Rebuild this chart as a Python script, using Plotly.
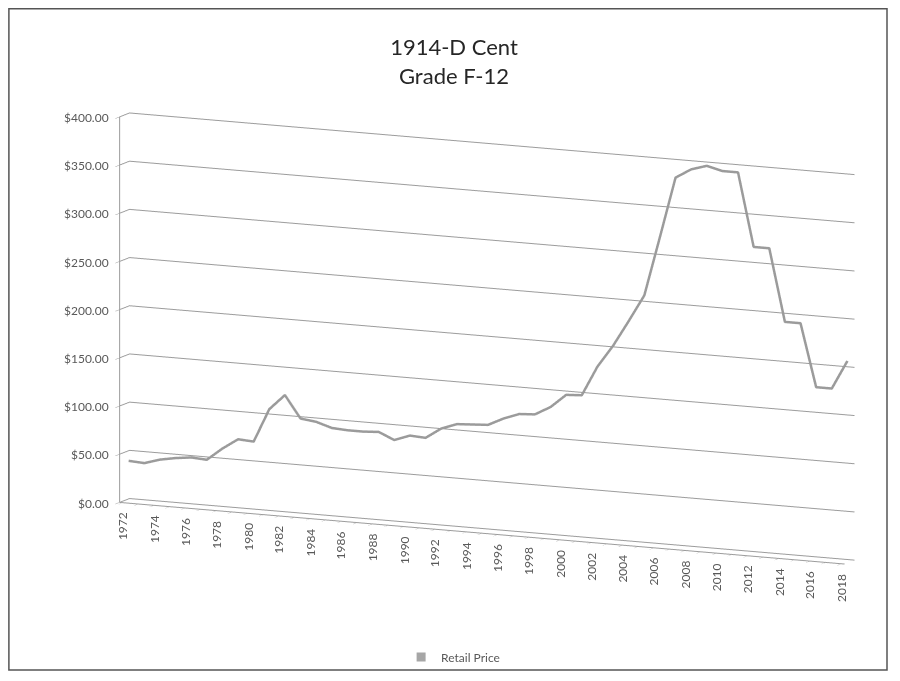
import math
import plotly.graph_objects as go

# ---- data ----
years = list(range(1972, 2019))
prices = [41, 40, 45, 48, 50, 49, 62, 73, 72, 107,
          123, 100, 98, 93, 92, 92, 93, 86, 92, 91,
          102, 108, 109, 110, 118, 124, 125, 134, 148, 149,
          180, 203, 230, 258, 320, 383, 393, 398, 394, 394,
          318, 318, 243, 243, 178, 178, 208]
series_name = "Retail Price"
title_lines = ["1914-D Cent", "Grade F-12"]
year_labels = [str(y) for y in range(1972, 2019, 2)]
value_ticks = list(range(0, 401, 50))
value_labels = ["$%.2f" % v for v in value_ticks]
depth = [0.6] * len(years)

# ---- figure size (page body adds an 8px offset) ----
W, H = 892, 673

# ---- camera geometry ----
yaw = math.radians(25)
pitch = math.radians(10.5)
r = 2.0
dirv = (math.sin(yaw) * math.cos(pitch), -math.cos(yaw) * math.cos(pitch), math.sin(pitch))
shift = -0.117
cen = (shift * math.cos(yaw), shift * math.sin(yaw), 0.0)
eye = tuple(c + r * d for c, d in zip(cen, dirv))
zoom = 1.388

FONT = "Lato"
TXT = "#595959"
GRID = "#9c9c9c"
LINE = "#9b9b9b"
XMIN, XMAX = 1971.8, 2018.2

fig = go.Figure()
fig.add_trace(go.Scatter3d(
    x=years, y=depth, z=prices, mode="lines", name=series_name,
    line=dict(color=LINE, width=5), showlegend=False,
))
# legend entry (square key, as in the reference)
fig.add_trace(go.Scatter(
    x=[None], y=[None], mode="markers", name=series_name,
    marker=dict(symbol="square", size=9, color="#a6a6a6"), showlegend=True,
))

annotations = []
for lab in year_labels:
    annotations.append(dict(x=int(lab), y=0, z=0, text=lab, showarrow=False,
                            textangle=-90, xanchor="center", yanchor="top", yshift=-7,
                            font=dict(family=FONT, size=12, color=TXT)))
for v, lab in zip(value_ticks, value_labels):
    annotations.append(dict(x=XMIN, y=0, z=v, text=lab, showarrow=False,
                            xanchor="right", yanchor="middle", xshift=-9,
                            font=dict(family=FONT, size=12, color=TXT)))

fig.update_layout(
    width=W, height=H,
    margin=dict(l=0, r=0, t=0, b=0, pad=0),
    paper_bgcolor="white",
    plot_bgcolor="rgba(0,0,0,0)",
    font=dict(family=FONT, color=TXT, size=12),
    title=dict(text="<br>".join(title_lines), x=0.5, xanchor="center",
               y=1 - 47 / H, yanchor="middle", yref="container",
               font=dict(family=FONT, size=22, color="#262626")),
    showlegend=True,
    legend=dict(orientation="h", x=0.499, xanchor="center", y=1 - 649 / H, yanchor="middle",
                font=dict(family=FONT, size=12, color=TXT), bgcolor="rgba(0,0,0,0)",
                itemwidth=30),
    xaxis=dict(visible=False),
    yaxis=dict(visible=False),
    scene=dict(
        domain=dict(x=[0, 1], y=[0.088, 0.928]),
        aspectmode="manual",
        aspectratio=dict(x=2.04 * zoom, y=0.06 * zoom, z=1.0 * zoom),
        bgcolor="rgba(0,0,0,0)",
        camera=dict(eye=dict(x=eye[0], y=eye[1], z=eye[2]),
                    center=dict(x=cen[0], y=cen[1], z=cen[2]),
                    up=dict(x=0, y=0, z=1),
                    projection=dict(type="orthographic")),
        xaxis=dict(range=[XMIN, XMAX], tick0=1972, dtick=1,
                   showgrid=False, zeroline=False, showline=True, linecolor=GRID, linewidth=2,
                   ticks="outside", tickcolor=GRID, ticklen=5, showticklabels=False,
                   showbackground=False, showspikes=False, title=dict(text="")),
        yaxis=dict(range=[0, 1], visible=False, showgrid=False, showbackground=False,
                   showspikes=False),
        zaxis=dict(range=[0, 400], dtick=50,
                   showgrid=True, gridcolor=GRID, gridwidth=2, zeroline=False,
                   showline=True, linecolor=GRID, linewidth=2, ticks="outside", tickcolor=GRID,
                   ticklen=4, showticklabels=False,
                   showbackground=False, showspikes=False, title=dict(text="")),
        annotations=annotations,
    ),
    shapes=[dict(type="rect", xref="paper", yref="paper",
                 x0=0.001, x1=879 / W, y0=1 - 662 / H, y1=0.999,
                 line=dict(color="#555555", width=1.5), fillcolor="rgba(0,0,0,0)",
                 layer="above")],
)

fig.write_html("out.html")
